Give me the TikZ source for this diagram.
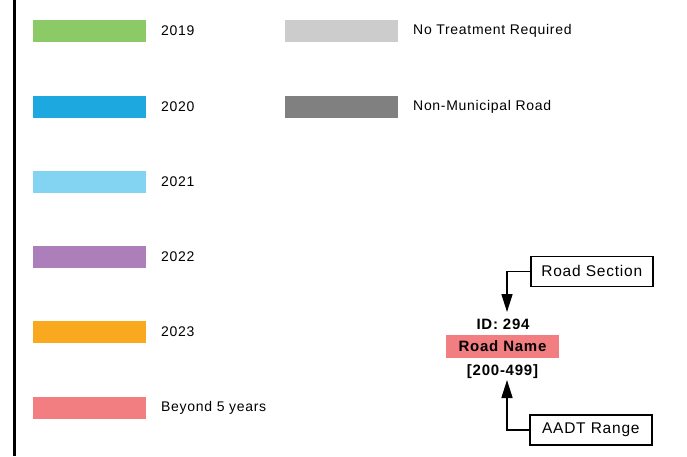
\documentclass[tikz,border=0pt]{standalone}
\usepackage{fontspec}
\setmainfont{Liberation Sans}[LetterSpace=5]
\usetikzlibrary{arrows.meta}
\definecolor{cA}{HTML}{8CC967}
\definecolor{cB}{HTML}{1EA8E0}
\definecolor{cC}{HTML}{82D4F2}
\definecolor{cD}{HTML}{AC7FBA}
\definecolor{cE}{HTML}{F9A91F}
\definecolor{cF}{HTML}{F37E81}
\definecolor{cG}{HTML}{CCCCCC}
\definecolor{cH}{HTML}{808080}
\begin{document}
\begin{tikzpicture}[x=1pt,y=-1pt,
  swatch/.style={draw=none,minimum width=113pt,minimum height=22pt,inner sep=0pt,anchor=north west},
  lbl/.style={anchor=west,inner sep=0pt,font=\fontsize{14}{16}\selectfont},
  callout/.style={draw=black,line width=1.6pt,inner sep=0pt,minimum width=122pt,minimum height=30pt,anchor=north west,font=\fontsize{15.5}{18}\selectfont},
  bl/.style={font=\fontsize{15}{17}\selectfont\bfseries,inner sep=0pt},
  arr/.style={line width=1.6pt,-{Triangle[length=18pt,width=11pt]}}]
\useasboundingbox (0,0) rectangle (687,456);
\fill[white] (0,0) rectangle (687,456);
\draw[line width=3pt] (14.5,0) -- (14.5,456);
% swatches
\node[swatch,fill=cA] (s1) at (33,20) {};
\node[swatch,fill=cB] (s2) at (33,95.5) {};
\node[swatch,fill=cC] (s3) at (33,171) {};
\node[swatch,fill=cD] (s4) at (33,246) {};
\node[swatch,fill=cE] (s5) at (33,321) {};
\node[swatch,fill=cF] (s6) at (33,397) {};
\node[swatch,fill=cG] (s7) at (285,20) {};
\node[swatch,fill=cH] (s8) at (285,95.5) {};
\node[lbl] (l1) at (161,31) {2019};
\node[lbl] (l2) at (161,106.5) {2020};
\node[lbl] (l3) at (161,182) {2021};
\node[lbl] (l4) at (161,257) {2022};
\node[lbl] (l5) at (161,332) {2023};
\node[lbl] (l6) at (161,408) {Beyond 5 years};
\node[lbl] (l7) at (413,31) {No Treatment Required};
\node[lbl] (l8) at (413,106.5) {Non-Municipal Road};
% example label
\node[bl] (id) at (503,324) {ID: 294};
\node[fill=cF,minimum width=113pt,minimum height=23pt,inner sep=0pt] (rn) at (502.5,346.5) {};
\node[bl] (rnt) at (502.5,346.5) {Road Name};
\node[bl] (aadt) at (502.5,371.5) {[200-499]};
\node[callout] (rs) at (530,255.5) {Road Section};
\node[callout] (ar) at (529,414) {AADT Range};
\coordinate (c1) at (507,312);
\coordinate (c2) at (507,380);
\draw[arr] (rs.west) -| (c1);
\draw[arr] (ar.west) -| (c2);
\end{tikzpicture}
\end{document}
